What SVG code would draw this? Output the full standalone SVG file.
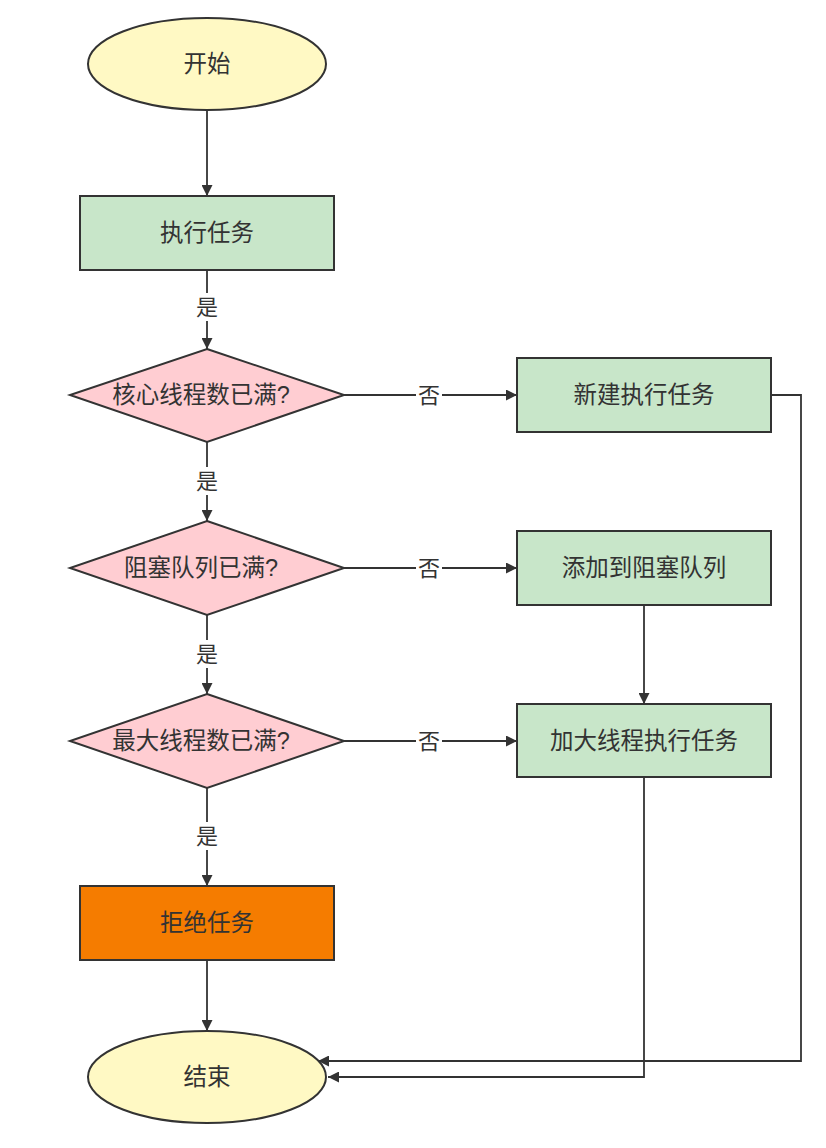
<svg xmlns="http://www.w3.org/2000/svg" width="826" height="1148" viewBox="0 0 826 1148">
<style>
.t{font-family:"Liberation Sans","Noto Sans CJK SC",sans-serif;font-size:23.5px;fill:#333;text-anchor:middle;dominant-baseline:central}
.l{font-family:"Liberation Sans","Noto Sans CJK SC",sans-serif;font-size:22px;fill:#333;text-anchor:middle;dominant-baseline:central}
.e{fill:#FFF9C4;stroke:#333;stroke-width:2}
.r{fill:#C8E6C9;stroke:#333;stroke-width:2}
.d{fill:#FFCDD2;stroke:#333;stroke-width:2}
.o{fill:#F57C00;stroke:#333;stroke-width:2}
.c{fill:none;stroke:#333;stroke-width:1.8;marker-end:url(#a)}
.lb{fill:#fff}
</style>
<defs>
<marker id="a" viewBox="0 0 10 10" refX="10" refY="5" markerWidth="11" markerHeight="11" markerUnits="userSpaceOnUse" orient="auto"><path d="M0,0 L10,5 L0,10 z" fill="#333"/></marker>
</defs>
<rect width="826" height="1148" fill="#fff"/>
<g id="connectors">
<path class="c" d="M207,110 V196"/>
<path class="c" d="M207,270 V349"/>
<path class="c" d="M207,442 V521"/>
<path class="c" d="M207,615 V694"/>
<path class="c" d="M207,788 V886"/>
<path class="c" d="M207,960 V1031"/>
<path class="c" d="M344,395 H517"/>
<path class="c" d="M344,568 H517"/>
<path class="c" d="M344,741 H517"/>
<path class="c" d="M644,605 V704"/>
<path class="c" d="M771,395 H801 V1061 H318"/>
<path class="c" d="M644,777 V1077 H328"/>
<rect class="lb" x="194" y="293" width="26" height="28"/><text class="l" x="207" y="307">是</text>
<rect class="lb" x="194" y="467" width="26" height="28"/><text class="l" x="207" y="481">是</text>
<rect class="lb" x="194" y="640" width="26" height="28"/><text class="l" x="207" y="654">是</text>
<rect class="lb" x="194" y="822" width="26" height="28"/><text class="l" x="207" y="836">是</text>
<rect class="lb" x="416" y="381" width="26" height="28"/><text class="l" x="429" y="395">否</text>
<rect class="lb" x="416" y="554" width="26" height="28"/><text class="l" x="429" y="568">否</text>
<rect class="lb" x="416" y="727" width="26" height="28"/><text class="l" x="429" y="741">否</text>
</g>
<g id="start"><ellipse class="e" cx="207" cy="64" rx="119" ry="46"/><text class="t" x="207" y="64">开始</text></g>
<g id="exec"><rect class="r" x="80" y="196" width="254" height="74"/><text class="t" x="207" y="233">执行任务</text></g>
<g id="core"><polygon class="d" points="207,349 344,395 207,442 70,395"/><text class="t" x="201" y="395">核心线程数已满?</text></g>
<g id="newtask"><rect class="r" x="517" y="358" width="254" height="74"/><text class="t" x="644" y="395">新建执行任务</text></g>
<g id="queue"><polygon class="d" points="207,521 344,568 207,615 70,568"/><text class="t" x="201" y="568">阻塞队列已满?</text></g>
<g id="addqueue"><rect class="r" x="517" y="531" width="254" height="74"/><text class="t" x="644" y="568">添加到阻塞队列</text></g>
<g id="max"><polygon class="d" points="207,694 344,741 207,788 70,741"/><text class="t" x="201" y="741">最大线程数已满?</text></g>
<g id="addthread"><rect class="r" x="517" y="704" width="254" height="73"/><text class="t" x="644" y="741">加大线程执行任务</text></g>
<g id="reject"><rect class="o" x="80" y="886" width="254" height="74"/><text class="t" x="207" y="923">拒绝任务</text></g>
<g id="end"><ellipse class="e" cx="207" cy="1077" rx="119" ry="46"/><text class="t" x="207" y="1077">结束</text></g>
</svg>
